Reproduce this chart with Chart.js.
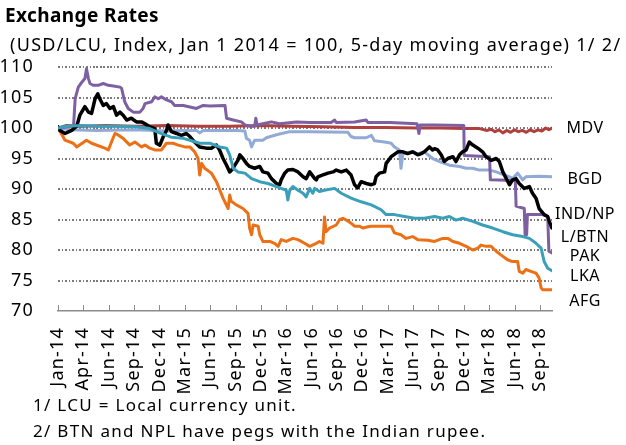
<!DOCTYPE html>
<html lang="en">
<head>
<meta charset="UTF-8">
<title>Exchange Rates</title>
<script src="https://cdn.jsdelivr.net/npm/chart.js"></script>
<style>
  body { margin: 0; background: #fff; font-family: "Noto Sans", sans-serif; }
  #wrap { position: relative; width: 626px; height: 445px; }
  #chart { position: absolute; left: 0; top: 0; z-index: 2; }
  #guides { position: absolute; left: 0; top: 0; width: 626px; height: 445px; z-index: 1; }
  .gl { position: absolute; height: 1.5px;
        background: repeating-linear-gradient(to right, #7a7a7a 0 1.5px, transparent 1.5px 3.5px); }
  .tk { position: absolute; width: 1px; height: 6px; background: #8c8c8c; }
  .txt { position: absolute; white-space: nowrap; color: #000; line-height: 1.36; z-index: 3; }
  #title { left: 5px; top: 3px; font-size: 19px; font-weight: bold; letter-spacing: 0.4px; }
  #sub { left: 10px; top: 32px; font-size: 18px; letter-spacing: 1.3px; }
  #note1 { left: 33px; top: 393px; font-size: 17px; letter-spacing: 1.3px; }
  #note2 { left: 33px; top: 419px; font-size: 17px; letter-spacing: 1.3px; }
</style>
</head>
<body>
<div id="wrap">
  <div id="guides"></div>
  <canvas id="chart" width="626" height="445"></canvas>
  <div class="txt" id="title">Exchange Rates</div>
  <div class="txt" id="sub">(USD/LCU, Index, Jan 1 2014 = 100, 5-day moving average) 1/ 2/</div>
  <div class="txt" id="note1">1/ LCU = Local currency unit.</div>
  <div class="txt" id="note2">2/ BTN and NPL have pegs with the Indian rupee.</div>
</div>
<script>
  // x = business day since Jan 1 2014, y = index
  const tickLabels = ['Jan-14','Apr-14','Jun-14','Sep-14','Dec-14','Mar-15','Jun-15','Sep-15','Dec-15','Mar-16',
                      'Jun-16','Sep-16','Dec-16','Mar-17','Jun-17','Sep-17','Dec-17','Mar-18','Jun-18','Sep-18'];
  const tickStep = 65;
  const lastDay = 1266;
  const gridValues = [75, 80, 85, 90, 95, 100, 105, 110];

  const afg = [[0,100.0],[18,98.0],[39,97.5],[48,96.9],[73,98.0],[86,97.5],[120,96.7],[129,96.4],[137,97.7],[146,99.1],
    [150,99.0],[167,98.3],[184,97.2],[197,97.7],[214,96.9],[223,97.2],[235,96.7],[248,96.4],[265,96.4],[278,97.5],
    [295,97.5],[308,97.2],[325,96.9],[338,96.9],[350,96.1],[359,95.0],[363,92.3],[368,94.2],[376,93.4],[393,92.6],
    [406,91.2],[423,88.5],[436,86.8],[440,89.0],[444,88.0],[457,87.4],[474,86.8],[487,86.0],[491,83.6],[496,82.5],
    [500,84.1],[513,83.9],[517,82.5],[525,81.4],[543,81.4],[555,81.1],[564,80.6],[572,81.7],[585,81.4],[602,81.9],
    [615,81.7],[632,81.1],[645,80.6],[662,81.1],[670,81.4],[679,81.1],[683,85.4],[687,83.0],[696,83.6],[713,84.1],
    [722,85.0],[730,85.2],[739,84.9],[751,84.4],[760,83.9],[773,83.9],[781,83.6],[794,83.8],[803,83.9],[854,83.9],
    [862,82.8],[879,82.5],[892,81.9],[909,82.2],[922,81.7],[948,81.6],[965,81.4],[986,81.9],[999,81.9],[1012,81.4],
    [1029,81.1],[1046,80.6],[1063,80.0],[1076,80.3],[1084,80.8],[1097,80.6],[1110,80.6],[1123,79.8],[1135,79.2],[1152,78.4],
    [1165,78.1],[1178,78.1],[1182,76.5],[1191,76.2],[1199,76.8],[1212,76.5],[1225,76.2],[1233,75.4],[1238,73.8],[1242,73.5],
    [1266,73.5]];

  const lka = [[0,100.0],[20,100.3],[60,100.4],[100,100.3],[150,100.3],[200,100.2],[235,99.9],[260,99.2],[290,98.5],[321,98.3],
    [338,98.0],[363,97.5],[389,97.5],[414,96.9],[432,96.7],[440,95.6],[449,93.4],[461,92.8],[479,92.6],[496,91.7],
    [517,91.2],[538,90.9],[560,90.4],[572,90.1],[585,89.8],[589,88.2],[594,89.8],[602,90.4],[615,89.8],[628,89.3],
    [636,88.7],[645,90.1],[653,89.3],[658,90.1],[670,89.6],[683,89.8],[709,90.1],[726,89.3],[751,88.5],[777,87.9],
    [803,87.4],[828,86.6],[841,85.8],[862,85.8],[888,85.5],[914,85.2],[939,85.2],[965,85.5],[986,85.2],[1003,85.5],
    [1020,84.9],[1037,85.2],[1063,84.7],[1088,84.1],[1114,83.6],[1140,83.0],[1165,82.5],[1191,82.2],[1208,81.9],[1225,81.1],
    [1238,80.3],[1246,78.1],[1255,77.0],[1266,76.6]];

  const mdv = [[0,100.0],[20,100.4],[60,100.3],[120,100.4],[200,100.3],[280,100.4],[360,100.3],[440,100.3],[520,100.4],[600,100.3],
    [680,100.2],[760,100.1],[840,100.1],[920,100.0],[980,100.0],[1040,99.9],[1080,99.9],[1100,99.6],[1110,99.8],[1120,99.4],
    [1130,99.7],[1140,99.2],[1150,99.6],[1160,99.3],[1170,99.7],[1180,99.4],[1190,99.6],[1200,99.3],[1210,99.7],[1220,99.4],
    [1230,99.7],[1240,99.5],[1250,100.0],[1258,99.7],[1266,100.0]];

  const bgd = [[0,100.0],[30,99.7],[100,99.6],[200,99.7],[280,99.5],[320,99.6],[355,99.6],[363,99.2],[372,99.6],[460,99.6],
    [479,99.5],[483,98.3],[491,98.0],[496,96.9],[504,98.0],[525,98.0],[534,98.4],[560,98.9],[594,99.4],[645,99.4],
    [743,99.3],[751,98.6],[760,98.4],[790,98.4],[803,98.8],[811,97.9],[837,97.7],[854,97.5],[862,96.9],[875,96.4],
    [879,93.4],[884,95.8],[905,96.1],[922,95.8],[939,96.1],[960,95.0],[978,94.5],[1003,93.9],[1029,93.7],[1046,93.4],
    [1063,93.4],[1080,93.1],[1106,93.1],[1123,92.8],[1157,92.0],[1165,91.7],[1178,92.6],[1191,91.5],[1199,92.0],[1233,92.1],
    [1266,92.0]];

  const pak = [[0,100.0],[35,100.3],[40,100.5],[44,104.8],[52,106.7],[61,107.5],[69,108.1],[73,109.7],[78,108.1],[82,107.3],
    [90,107.0],[103,107.0],[116,107.3],[129,107.0],[142,106.9],[159,106.7],[163,106.5],[171,104.3],[180,103.2],[193,102.6],
    [210,102.6],[218,103.2],[223,104.0],[240,104.3],[248,105.1],[257,104.8],[265,105.1],[278,104.6],[291,104.3],[299,103.7],
    [321,103.7],[355,103.2],[372,103.7],[389,103.6],[428,103.7],[432,101.6],[449,101.3],[470,101.0],[479,100.5],[491,100.3],
    [504,100.3],[507,101.6],[510,100.5],[525,100.7],[547,101.0],[568,100.7],[611,101.0],[645,100.9],[700,100.9],[709,101.3],
    [713,100.9],[760,101.0],[790,101.3],[794,100.9],[850,100.9],[920,100.7],[925,99.1],[928,100.5],[965,100.5],[1040,100.4],
    [1041,95.5],[1106,95.3],[1108,91.5],[1172,91.4],[1174,87.2],[1195,86.8],[1197,82.5],[1201,82.5],[1203,85.8],[1242,85.8],
    [1255,85.5],[1258,79.8],[1266,79.5]];

  const ind = [[0,100.2],[5,99.6],[18,99.1],[35,99.6],[48,100.3],[56,102.1],[69,103.5],[78,102.6],[86,102.4],[95,104.8],
    [102,105.6],[107,104.8],[116,103.7],[124,104.0],[133,103.2],[142,103.5],[150,102.1],[159,102.6],[167,102.1],[176,101.3],
    [188,101.6],[201,101.0],[214,101.0],[223,100.7],[235,100.2],[248,99.9],[252,97.5],[261,97.2],[270,98.6],[278,99.6],
    [282,100.5],[291,99.4],[304,99.1],[316,98.8],[329,99.1],[338,98.6],[350,97.7],[363,96.9],[380,96.7],[393,96.7],
    [406,97.2],[414,96.4],[423,95.0],[432,93.9],[440,92.8],[449,93.4],[453,93.9],[461,94.7],[466,95.6],[474,95.0],
    [483,94.2],[491,93.7],[504,93.4],[517,93.7],[525,92.8],[538,92.6],[547,91.7],[560,90.9],[568,90.7],[572,91.5],
    [581,92.6],[589,93.1],[602,93.2],[615,92.8],[628,92.0],[636,91.7],[645,92.8],[658,91.7],[662,91.5],[666,92.0],
    [679,92.3],[692,92.6],[705,92.8],[713,93.1],[726,92.8],[739,93.1],[751,92.3],[760,90.7],[768,90.2],[777,91.2],
    [790,90.9],[803,90.7],[811,90.9],[815,92.0],[824,92.6],[837,92.8],[841,94.2],[854,95.3],[871,96.1],[884,96.1],
    [896,95.8],[909,96.1],[922,95.6],[931,95.8],[939,96.1],[952,96.9],[960,96.4],[965,96.6],[973,96.4],[982,95.6],
    [990,94.5],[999,95.0],[1012,95.3],[1020,94.5],[1029,95.6],[1037,96.1],[1046,96.4],[1054,97.7],[1063,97.2],[1076,96.7],
    [1088,96.1],[1097,95.3],[1110,94.7],[1123,95.0],[1131,94.5],[1140,92.8],[1157,90.7],[1165,91.5],[1174,91.7],[1182,90.9],
    [1195,90.1],[1208,90.4],[1216,89.3],[1225,88.5],[1233,86.8],[1246,85.8],[1255,85.5],[1259,84.7],[1266,83.6]];

  // labels at the right end of the lines
  const endLabels = ['MDV', 'BGD', 'IND/NP', 'L/BTN', 'PAK', 'LKA', 'AFG'];
  const endLabelAt = [100.0, 91.6, 85.8, 82.0, 79.0, 75.7, 71.6];

  const toPts = arr => arr.map(p => ({ x: p[0], y: p[1] }));

  function series(label, arr, color, width) {
    return {
      label: label,
      data: toPts(arr),
      borderColor: color,
      borderWidth: width,
      pointRadius: 0,
      tension: 0,
      fill: false,
      borderJoinStyle: 'round',
      borderCapStyle: 'round'
    };
  }

  const endText = {
    id: 'endText',
    beforeDraw(chart) {
      chart.ctx.letterSpacing = '1.2px';
    },
    afterDraw(chart) {
      const ys = chart.scales.y;
      const ctx = chart.ctx;
      ctx.save();
      ctx.letterSpacing = '0.5px';
      ctx.font = '16px "Noto Sans"';
      ctx.fillStyle = '#000';
      ctx.textAlign = 'center';
      ctx.textBaseline = 'middle';
      endLabels.forEach((t, i) => {
        ctx.fillText(t, chart.chartArea.right + 33, ys.getPixelForValue(endLabelAt[i]));
      });
      ctx.restore();
    }
  };

  const chart = new Chart(document.getElementById('chart'), {
    type: 'line',
    data: {
      datasets: [
        series('LKA', lka, '#3a9fb8', 3),
        series('IND', ind, '#000000', 3.5),
        series('PAK', pak, '#7d5fa2', 3),
        series('MDV', mdv, '#ae403d', 3),
        series('BGD', bgd, '#91abd6', 3),
        series('AFG', afg, '#ec7116', 3)
      ]
    },
    options: {
      responsive: false,
      animation: false,
      layout: { padding: { top: 67, right: 74, left: 0, bottom: 0 } },
      plugins: { legend: { display: false }, tooltip: { enabled: false } },
      scales: {
        x: {
          type: 'linear',
          min: 0,
          max: lastDay,
          afterBuildTicks: s => { s.ticks = tickLabels.map((_, i) => ({ value: i * tickStep })); },
          afterFit: s => { s.height = 134; },
          grid: { display: false },
          border: { display: true, color: '#8c8c8c', width: 1.5 },
          ticks: {
            autoSkip: false,
            minRotation: 90,
            maxRotation: 90,
            padding: 8,
            color: '#000',
            font: { family: 'Noto Sans', size: 18 },
            callback: v => tickLabels[Math.round(v / tickStep)]
          }
        },
        y: {
          min: 70,
          max: 110,
          afterFit: s => { s.width = 58; },
          grid: { display: false },
          border: { display: false },
          ticks: {
            stepSize: 5,
            padding: 16,
            color: '#000',
            font: { family: 'Noto Sans', size: 18 }
          }
        }
      }
    },
    plugins: [endText]
  });

  // dotted gridlines and inward tick marks, placed from the chart's own scales, sitting behind the canvas
  const guides = document.getElementById('guides');
  const area = chart.chartArea;
  gridValues.forEach(v => {
    const d = document.createElement('div');
    d.className = 'gl';
    d.style.left = area.left + 'px';
    d.style.width = (area.right - area.left) + 'px';
    d.style.top = (Math.round(chart.scales.y.getPixelForValue(v)) - 1) + 'px';
    guides.appendChild(d);
  });
  tickLabels.forEach((_, i) => {
    const d = document.createElement('div');
    d.className = 'tk';
    d.style.left = Math.round(chart.scales.x.getPixelForValue(i * tickStep)) + 'px';
    d.style.top = (area.bottom - 6) + 'px';
    guides.appendChild(d);
  });
</script>
</body>
</html>
